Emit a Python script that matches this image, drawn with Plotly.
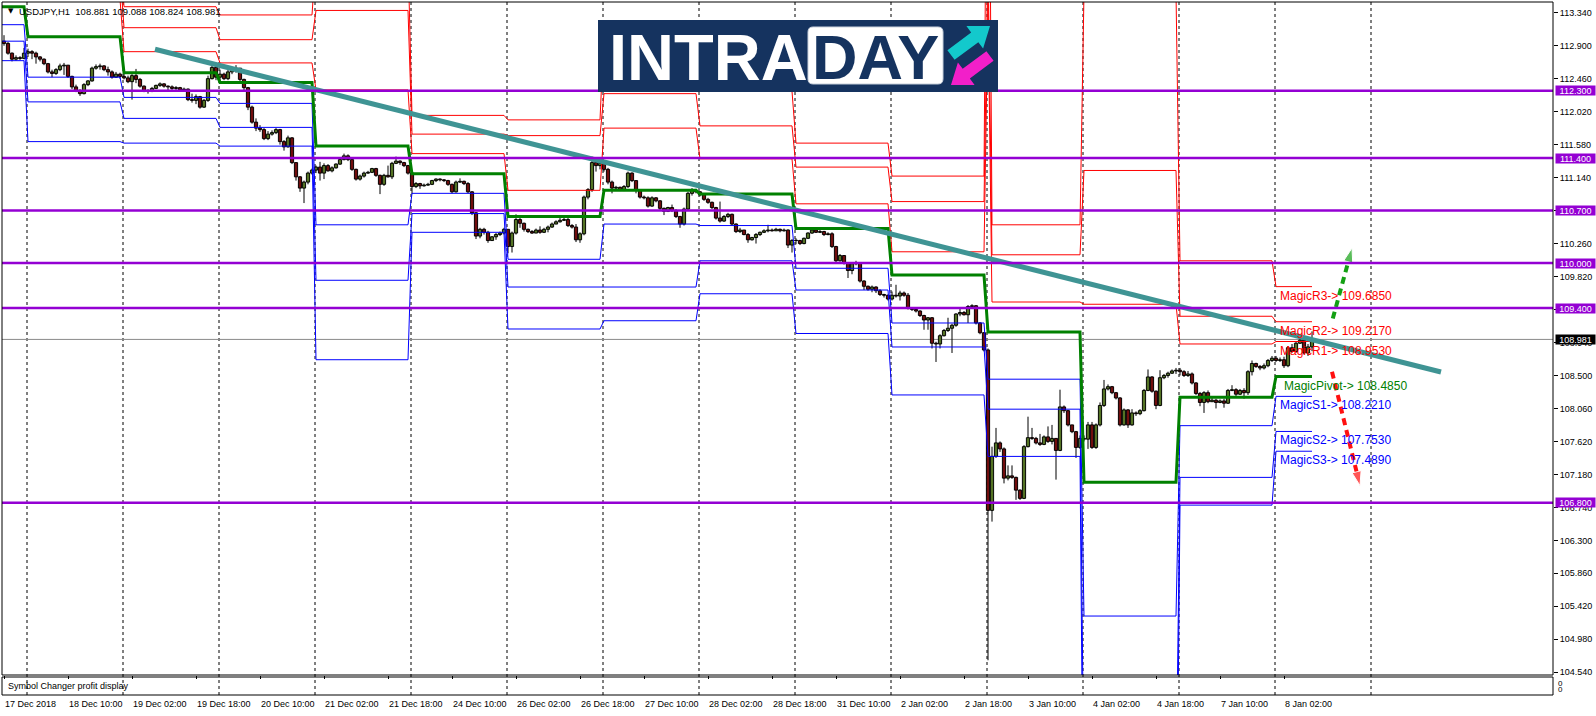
import math
from datetime import datetime, timedelta
import plotly.graph_objects as go

# ------------------------------------------------------------------ DATA
symbol_header = "USDJPY,H1  108.881 109.088 108.824 108.981"
day_dates = ["2018-12-17", "2018-12-18", "2018-12-19", "2018-12-20", "2018-12-21",
             "2018-12-24", "2018-12-26", "2018-12-27", "2018-12-28", "2018-12-31",
             "2019-01-02", "2019-01-03", "2019-01-04", "2019-01-07", "2019-01-08"]
day_start_hour = [18, 0, 0, 0, 0, 0, 0, 0, 0, 0, 0, 0, 0, 0, 0]
bars_per_day = [6, 24, 24, 24, 24, 24, 24, 24, 24, 24, 24, 24, 24, 24, 10]

first_open = 112.96
closes = [
    112.93, 112.80, 112.72, 112.74, 112.73, 112.80,
    112.82, 112.80, 112.75, 112.72, 112.66, 112.55, 112.53, 112.58, 112.63, 112.64, 112.49, 112.35,
    112.30, 112.26, 112.38, 112.43, 112.60, 112.62, 112.63, 112.58, 112.55, 112.48, 112.52, 112.49,
    112.47, 112.42, 112.50, 112.45, 112.36, 112.30, 112.29, 112.33, 112.37, 112.39, 112.36, 112.35,
    112.33, 112.34, 112.31, 112.32, 112.18, 112.17, 112.22, 112.08, 112.17, 112.46, 112.61, 112.48,
    112.52, 112.46, 112.55, 112.57, 112.60, 112.45, 112.34, 112.08, 111.88, 111.80, 111.78, 111.66,
    111.72, 111.74, 111.78, 111.62, 111.55, 111.67, 111.34, 111.15, 111.00, 111.08, 111.20, 111.24,
    111.28, 111.20, 111.30, 111.23, 111.27, 111.32, 111.38, 111.43, 111.38, 111.25, 111.12, 111.16,
    111.20, 111.21, 111.26, 111.17, 111.05, 111.17, 111.15, 111.33, 111.36, 111.34, 111.30, 111.20,
    111.02, 111.06, 111.03, 111.04, 111.05, 111.10, 111.12, 111.11, 111.10, 111.05, 110.95, 111.08,
    111.09, 111.06, 110.95, 110.67, 110.36, 110.45, 110.41, 110.30, 110.35, 110.38, 110.40, 110.45,
    110.22, 110.40, 110.58, 110.53, 110.45, 110.42, 110.40, 110.44, 110.41, 110.45, 110.48, 110.52,
    110.55, 110.57, 110.58, 110.50, 110.48, 110.31, 110.39, 110.88, 110.98, 111.34, 111.30, 111.33,
    111.25, 111.08, 111.00, 111.01, 110.98, 111.02, 111.20, 111.10, 110.97, 110.88, 110.87, 110.76,
    110.87, 110.83, 110.73, 110.69, 110.74, 110.70, 110.62, 110.52, 110.72, 110.93, 110.97, 110.95,
    110.91, 110.85, 110.81, 110.74, 110.60, 110.56, 110.62, 110.65, 110.52, 110.42, 110.44, 110.38,
    110.31, 110.34, 110.38, 110.41, 110.43, 110.44, 110.43, 110.45, 110.43, 110.44, 110.24, 110.30,
    110.30, 110.26, 110.33, 110.40, 110.44, 110.41, 110.42, 110.38, 110.39, 110.22, 110.03, 110.10,
    110.00, 109.90, 109.99, 110.00, 109.76, 109.69, 109.65, 109.68, 109.63, 109.58, 109.57, 109.52,
    109.57, 109.56, 109.60, 109.57, 109.40, 109.38, 109.36, 109.30, 109.24, 109.27, 108.93, 108.92,
    109.03, 109.10, 109.13, 109.17, 109.32, 109.34, 109.31, 109.42, 109.43, 109.20, 109.07, 108.84,
    106.70, 107.42, 107.60, 107.52, 107.13, 107.16, 107.14, 106.97, 106.86, 107.55, 107.67, 107.66,
    107.60, 107.58, 107.68, 107.62, 107.66, 107.50, 108.08, 108.03, 107.84, 107.75, 107.54, 107.66,
    107.65, 107.84, 107.54, 107.84, 108.10, 108.32, 108.35, 108.27, 108.20, 107.84, 108.04, 107.84,
    108.00, 107.99, 108.03, 108.30, 108.48, 108.29, 108.10, 108.47, 108.50, 108.53, 108.56, 108.57,
    108.55, 108.50, 108.52, 108.40, 108.26, 108.14, 108.27, 108.15, 108.17, 108.14, 108.16, 108.13,
    108.30, 108.31, 108.25, 108.30, 108.27, 108.55, 108.66, 108.62, 108.60, 108.63, 108.70, 108.73,
    108.70, 108.71, 108.63, 108.87, 108.82, 108.93, 108.97, 108.80, 108.881, 108.981,
]
highs = [
    113.04, 112.95, 112.81, 112.77, 112.76, 112.87,
    112.86, 112.84, 112.82, 112.76, 112.73, 112.67, 112.58, 112.60, 112.66, 112.67, 112.64, 112.50,
    112.38, 112.32, 112.40, 112.44, 112.62, 112.65, 112.66, 112.64, 112.62, 112.57, 112.55, 112.54,
    112.53, 112.50, 112.52, 112.59, 112.47, 112.37, 112.32, 112.35, 112.38, 112.41, 112.40, 112.37,
    112.37, 112.36, 112.35, 112.34, 112.33, 112.26, 112.25, 112.23, 112.19, 112.50, 112.68, 112.64,
    112.58, 112.54, 112.58, 112.60, 112.64, 112.60, 112.46, 112.35, 112.10, 111.93, 111.84, 111.80,
    111.76, 111.77, 111.80, 111.79, 111.64, 111.70, 111.68, 111.34, 111.16, 111.10, 111.22, 111.26,
    111.30, 111.35, 111.33, 111.32, 111.29, 111.33, 111.40, 111.46, 111.45, 111.40, 111.26, 111.18,
    111.22, 111.23, 111.27, 111.27, 111.18, 111.19, 111.30, 111.35, 111.42, 111.37, 111.35, 111.31,
    111.22, 111.08, 111.07, 111.06, 111.07, 111.11, 111.13, 111.13, 111.12, 111.11, 111.06, 111.10,
    111.13, 111.10, 111.08, 110.96, 110.68, 110.47, 110.47, 110.43, 110.36, 110.40, 110.42, 110.47,
    110.45, 110.42, 110.65, 110.62, 110.54, 110.46, 110.44, 110.46, 110.49, 110.47, 110.50, 110.54,
    110.57, 110.60, 110.63, 110.61, 110.52, 110.52, 110.41, 110.90, 111.00, 111.42, 111.40, 111.37,
    111.37, 111.27, 111.10, 111.03, 111.02, 111.04, 111.22, 111.21, 111.10, 110.98, 110.90, 110.89,
    110.89, 110.88, 110.84, 110.74, 110.75, 110.78, 110.72, 110.63, 110.74, 110.95, 111.00, 110.99,
    110.96, 110.93, 110.87, 110.82, 110.75, 110.82, 110.64, 110.67, 110.66, 110.53, 110.47, 110.44,
    110.40, 110.35, 110.40, 110.42, 110.45, 110.51, 110.46, 110.47, 110.46, 110.46, 110.45, 110.32,
    110.33, 110.31, 110.34, 110.41, 110.48, 110.45, 110.44, 110.43, 110.41, 110.41, 110.23, 110.12,
    110.10, 110.01, 110.00, 110.03, 110.01, 109.77, 109.70, 109.70, 109.69, 109.65, 109.59, 109.58,
    109.62, 109.71, 109.63, 109.62, 109.60, 109.41, 109.39, 109.37, 109.31, 109.28, 109.28, 108.95,
    109.05, 109.12, 109.27, 109.19, 109.33, 109.40, 109.36, 109.44, 109.45, 109.44, 109.21, 109.08,
    108.86, 107.55, 107.80, 107.62, 107.54, 107.30, 107.30, 107.15, 106.98, 107.57, 107.95, 107.80,
    107.68, 107.72, 107.70, 107.82, 107.84, 107.66, 108.31, 108.10, 108.04, 107.84, 107.76, 107.70,
    107.70, 107.88, 107.88, 107.86, 108.14, 108.44, 108.38, 108.36, 108.28, 108.21, 108.06, 108.05,
    108.05, 108.02, 108.05, 108.32, 108.58, 108.49, 108.30, 108.57, 108.52, 108.55, 108.58, 108.60,
    108.60, 108.57, 108.56, 108.54, 108.41, 108.28, 108.29, 108.30, 108.20, 108.19, 108.18, 108.19,
    108.32, 108.37, 108.33, 108.32, 108.33, 108.57, 108.70, 108.67, 108.64, 108.66, 108.72, 108.76,
    108.76, 108.74, 108.75, 108.89, 108.92, 108.95, 109.05, 108.99, 108.92, 109.088,
]
lows = [
    112.90, 112.78, 112.69, 112.70, 112.71, 112.72,
    112.75, 112.72, 112.66, 112.69, 112.64, 112.53, 112.48, 112.51, 112.56, 112.51, 112.47, 112.32,
    112.28, 112.23, 112.25, 112.36, 112.42, 112.58, 112.58, 112.56, 112.50, 112.46, 112.47, 112.46,
    112.45, 112.40, 112.18, 112.40, 112.34, 112.28, 112.26, 112.28, 112.32, 112.35, 112.34, 112.30,
    112.31, 112.31, 112.29, 112.30, 112.16, 112.14, 112.12, 112.06, 112.07, 112.15, 112.45, 112.44,
    112.43, 112.44, 112.44, 112.52, 112.54, 112.42, 112.30, 112.04, 111.86, 111.76, 111.75, 111.64,
    111.64, 111.70, 111.72, 111.58, 111.50, 111.54, 111.32, 111.10, 110.95, 110.80, 111.05, 111.18,
    111.20, 111.10, 111.12, 111.22, 111.21, 111.26, 111.31, 111.37, 111.36, 111.23, 111.10, 111.10,
    111.14, 111.19, 111.20, 111.15, 110.92, 111.03, 111.14, 111.12, 111.32, 111.31, 111.28, 111.18,
    110.92, 111.00, 110.99, 111.02, 111.03, 111.04, 111.08, 111.09, 111.08, 111.03, 110.93, 110.94,
    111.07, 111.04, 110.93, 110.64, 110.32, 110.33, 110.38, 110.27, 110.30, 110.31, 110.36, 110.38,
    110.13, 110.14, 110.38, 110.47, 110.42, 110.40, 110.39, 110.40, 110.39, 110.40, 110.41, 110.47,
    110.52, 110.54, 110.56, 110.48, 110.46, 110.28, 110.27, 110.37, 110.85, 110.95, 111.22, 111.25,
    111.22, 111.05, 110.93, 110.97, 110.96, 110.96, 111.00, 111.08, 110.93, 110.86, 110.85, 110.74,
    110.75, 110.81, 110.70, 110.64, 110.68, 110.68, 110.60, 110.47, 110.50, 110.70, 110.90, 110.93,
    110.89, 110.83, 110.79, 110.72, 110.58, 110.54, 110.55, 110.60, 110.50, 110.40, 110.40, 110.37,
    110.27, 110.30, 110.26, 110.36, 110.40, 110.41, 110.42, 110.43, 110.41, 110.42, 110.20, 110.14,
    110.25, 110.24, 110.25, 110.32, 110.39, 110.40, 110.40, 110.36, 110.37, 110.20, 110.01, 110.02,
    109.98, 109.80, 109.85, 109.97, 109.74, 109.64, 109.63, 109.61, 109.60, 109.56, 109.54, 109.50,
    109.50, 109.54, 109.50, 109.55, 109.38, 109.36, 109.34, 109.28, 109.11, 109.11, 108.86, 108.68,
    108.86, 109.02, 109.08, 108.80, 109.15, 109.29, 109.30, 109.20, 109.41, 109.18, 109.05, 108.82,
    104.70, 106.55, 107.40, 107.48, 107.06, 107.10, 107.12, 106.84, 106.84, 106.85, 107.54, 107.64,
    107.58, 107.56, 107.57, 107.60, 107.58, 107.11, 107.49, 108.00, 107.82, 107.73, 107.40, 107.52,
    107.62, 107.52, 107.52, 107.52, 107.82, 108.08, 108.30, 108.25, 108.18, 107.82, 107.83, 107.80,
    107.83, 107.96, 107.97, 108.02, 108.29, 108.27, 108.05, 108.09, 108.45, 108.47, 108.52, 108.52,
    108.50, 108.48, 108.48, 108.38, 108.24, 108.09, 108.00, 108.13, 108.15, 108.06, 108.13, 108.07,
    108.12, 108.29, 108.22, 108.24, 108.19, 108.24, 108.50, 108.60, 108.57, 108.58, 108.61, 108.68,
    108.68, 108.68, 108.60, 108.61, 108.80, 108.80, 108.92, 108.78, 108.76, 108.824,
]

# daily "Magic" pivot levels (one value per day)
pivot = [113.42, 113.02, 112.54, 112.41, 111.56, 111.19, 110.62, 110.97, 110.92, 110.46, 109.84, 109.08, 107.075, 108.21, 108.485]
r1 = [113.64, 113.52, 112.82, 112.67, 112.31, 111.46, 110.97, 111.80, 111.39, 110.79, 110.15, 109.48, 109.45, 108.92, 108.953]
r2 = [113.88, 113.89, 113.14, 112.98, 113.37, 111.72, 111.70, 112.26, 111.83, 111.28, 110.82, 110.11, 111.235, 109.29, 109.217]
r3 = [114.10, 114.22, 113.42, 113.31, 114.10, 111.97, 111.91, 113.10, 112.29, 111.60, 111.16, 110.51, 113.61, 110.03, 109.685]
s1 = [113.18, 112.48, 112.21, 112.13, 110.51, 110.93, 110.05, 110.52, 110.50, 109.93, 109.20, 108.45, 105.29, 107.83, 108.221]
s2 = [112.96, 112.15, 111.93, 111.81, 109.77, 110.66, 109.68, 109.68, 110.03, 109.64, 108.88, 108.05, 102.90, 107.14, 107.753]
s3 = [112.70, 111.62, 111.60, 111.56, 108.71, 110.41, 109.12, 109.23, 109.59, 109.06, 108.24, 107.42, 101.13, 106.77, 107.489]
# resistance values on the first (flash-crash) bar of 3 Jan, drawn off the top of the chart
spike_day = 11
spike_r1, spike_r2, spike_r3 = 113.46, 114.09, 118.50

level_lines = [112.300, 111.400, 110.700, 110.000, 109.400, 106.800]
last_price = 108.981
y_ticks = [113.34, 112.90, 112.46, 112.02, 111.58, 111.14, 110.70, 110.26, 109.82, 109.38, 108.94,
           108.50, 108.06, 107.62, 107.18, 106.74, 106.30, 105.86, 105.42, 104.98, 104.54]
tick_every = 16

# hand-drawn objects (bar index, price)
trend_x, trend_y = [37.75, 359.25], [112.852, 108.546]
up_arrow_x, up_arrow_y = [332.2, 337.0], [109.26, 110.20]
down_arrow_x, down_arrow_y = [332.0, 339.0], [108.55, 107.03]

# ------------------------------------------------------------------ LAYOUT GEOMETRY
W, H = 1596, 716
PL, PR, PT, PB = 2, 1553, 2, 695      # plot area (px)
MAIN_B, SUB_T = 675, 677               # main pane bottom, sub pane top
X_RANGE = [-0.5, 387.25]
Y_RANGE = [104.5034, 113.4828]
BULL, BEAR = "#a8e64a", "#e01b1b"


def xp(px):
    return (px - PL) / (PR - PL)


def yp(py):
    return (PB - py) / (PB - PT)


# ------------------------------------------------------------------ BUILD SERIES
times = []
for d, h0, n in zip(day_dates, day_start_hour, bars_per_day):
    base = datetime.strptime(d, "%Y-%m-%d")
    for k in range(n):
        times.append(base + timedelta(hours=h0 + k))
N = len(times)
idx = list(range(N))
opens = [first_open] + closes[:-1]

tick_vals, tick_text = [], []
for i in range(0, N, tick_every):
    t = times[i]
    tick_vals.append(i)
    tick_text.append(f"{t.day} {t:%b %Y}" if i == 0 else f"{t.day} {t:%b %H:%M}")

day_first_index = []
acc = 0
for n in bars_per_day:
    day_first_index.append(acc)
    acc += n
separators = day_first_index[1:] + [day_first_index[-1] + 24]


def per_bar(levels, spike=None):
    out = []
    for v, n in zip(levels, bars_per_day):
        out += [v] * n
    if spike is not None:
        out[day_first_index[spike_day]] = spike
    return out


fig = go.Figure()

# candles: wicks + bodies
wx, wy = [], []
for i in idx:
    wx += [i, i, None]
    wy += [lows[i], highs[i], None]
fig.add_trace(go.Scatter(x=wx, y=wy, mode="lines", line=dict(color="black", width=1),
                         showlegend=False, hoverinfo="skip"))
body_base = [min(o, c) for o, c in zip(opens, closes)]
body_h = [max(abs(c - o), 0.004) for o, c in zip(opens, closes)]
body_col = [BULL if c >= o else BEAR for o, c in zip(opens, closes)]
fig.add_trace(go.Bar(x=idx, y=body_h, base=body_base, width=0.8,
                     marker=dict(color=body_col, line=dict(color="black", width=1)),
                     showlegend=False, hoverinfo="skip"))

lx = [-0.5] + idx
for lv, sp, col, w in [(s3, None, "#0000ff", 1), (s2, None, "#0000ff", 1), (s1, None, "#0000ff", 1),
                       (r1, spike_r1, "#ff0000", 1), (r2, spike_r2, "#ff0000", 1),
                       (r3, spike_r3, "#ff0000", 1), (pivot, None, "#008000", 3)]:
    pb = per_bar(lv, sp)
    fig.add_trace(go.Scatter(x=lx, y=[pb[0]] + pb, mode="lines",
                             line=dict(color=col, width=w), showlegend=False, hoverinfo="skip"))

fig.add_trace(go.Scatter(x=trend_x, y=trend_y, mode="lines",
                         line=dict(color="#3f9494", width=5), showlegend=False, hoverinfo="skip"))
for ax_, ay_, col in [(up_arrow_x, up_arrow_y, "#13a013"), (down_arrow_x, down_arrow_y, "#ff1010")]:
    fig.add_trace(go.Scatter(x=ax_, y=ay_, mode="lines+markers",
                             line=dict(color=col, width=4, dash="7px,5px"),
                             marker=dict(symbol=["circle", "arrow"], size=[0, 15], color=col,
                                         angleref="previous"),
                             showlegend=False, hoverinfo="skip"))

shapes = []
for s in separators:
    shapes.append(dict(type="line", xref="x", yref="paper", x0=s - 0.25, x1=s - 0.25, y0=0, y1=1,
                       line=dict(color="black", width=1, dash="3px,3px"), layer="below"))
shapes.append(dict(type="line", xref="paper", yref="y", x0=0, x1=1, y0=last_price, y1=last_price,
                   line=dict(color="#8a8a8a", width=1), layer="below"))
for lv in level_lines:
    shapes.append(dict(type="line", xref="paper", yref="y", x0=0, x1=1, y0=lv, y1=lv,
                       line=dict(color="#9400d3", width=2.5), layer="above"))
# pane frames
shapes.append(dict(type="rect", xref="paper", yref="paper", x0=0, x1=1, y0=yp(MAIN_B), y1=1,
                   line=dict(color="black", width=1)))
shapes.append(dict(type="rect", xref="paper", yref="paper", x0=0, x1=1, y0=0, y1=yp(SUB_T),
                   line=dict(color="black", width=1)))


def P(px, py):
    return f"{xp(px):.6f},{yp(py):.6f}"


def arrow_path(tail, tip, sw, hw, hl):
    dx, dy = tip[0] - tail[0], tip[1] - tail[1]
    L = math.hypot(dx, dy)
    ux, uy = dx / L, dy / L
    nx, ny = -uy, ux
    bx, by = tip[0] - ux * hl, tip[1] - uy * hl
    pts = [(tail[0] + nx * sw, tail[1] + ny * sw), (bx + nx * sw, by + ny * sw),
           (bx + nx * hw, by + ny * hw), tip, (bx - nx * hw, by - ny * hw),
           (bx - nx * sw, by - ny * sw), (tail[0] - nx * sw, tail[1] - ny * sw)]
    return "M " + " L ".join(P(*p) for p in pts) + " Z"


# INTRADAY logo
NAVY = "#15335f"
shapes.append(dict(type="rect", xref="paper", yref="paper", x0=xp(598), x1=xp(998), y0=yp(92), y1=yp(20),
                   fillcolor=NAVY, line=dict(width=0), layer="above"))
x0, x1, y0, y1, r = 808, 943, 27, 84, 5
rr = (f"M {P(x0 + r, y0)} L {P(x1 - r, y0)} Q {P(x1, y0)} {P(x1, y0 + r)} L {P(x1, y1 - r)} "
      f"Q {P(x1, y1)} {P(x1 - r, y1)} L {P(x0 + r, y1)} Q {P(x0, y1)} {P(x0, y1 - r)} "
      f"L {P(x0, y0 + r)} Q {P(x0, y0)} {P(x0 + r, y0)} Z")
shapes.append(dict(type="path", xref="paper", yref="paper", path=rr, fillcolor="white",
                   line=dict(color="#c9d1dc", width=1), layer="above"))
shapes.append(dict(type="path", xref="paper", yref="paper", path=arrow_path((951, 55), (990, 26), 6, 14, 19),
                   fillcolor="#13c9cc", line=dict(width=0), layer="above"))
shapes.append(dict(type="path", xref="paper", yref="paper", path=arrow_path((990, 56), (951, 85), 6, 14, 19),
                   fillcolor="#f21fc9", line=dict(width=0), layer="above"))

FONT = "Liberation Sans, Arial, sans-serif"
ann = []
ann.append(dict(xref="paper", yref="paper", x=xp(607), y=yp(57), xanchor="left", yanchor="middle",
                text="<b>INTRA</b>", showarrow=False, font=dict(family=FONT, size=65, color="white")))
ann.append(dict(xref="paper", yref="paper", x=xp(875.5), y=yp(57), xanchor="center", yanchor="middle",
                text="<b>DAY</b>", showarrow=False, font=dict(family=FONT, size=63, color=NAVY)))

ann.append(dict(xref="paper", yref="paper", x=xp(6), y=yp(11), xanchor="left", yanchor="middle",
                text="▼", showarrow=False, font=dict(family="DejaVu Sans", size=7, color="black")))
ann.append(dict(xref="paper", yref="paper", x=xp(17), y=yp(11), xanchor="left", yanchor="middle",
                text=symbol_header.replace("  ", "&nbsp;&nbsp;"), showarrow=False,
                font=dict(family=FONT, size=9.5, color="black")))

for lv in level_lines:
    ann.append(dict(xref="paper", yref="y", x=xp(1555), y=lv, xanchor="left", yanchor="middle",
                    text=f"{lv:.3f}", showarrow=False, bgcolor="#9400d3", width=39, height=9,
                    borderpad=0, font=dict(family=FONT, size=9, color="white")))
ann.append(dict(xref="paper", yref="y", x=xp(1555), y=last_price, xanchor="left", yanchor="middle",
                text=f"{last_price:.3f}", showarrow=False, bgcolor="black", width=39, height=9,
                borderpad=0, font=dict(family=FONT, size=9, color="white")))

magic = [("MagicR3", r3[-1], "#ff0000", 0), ("MagicR2", r2[-1], "#ff0000", 0),
         ("MagicR1", r1[-1], "#ff0000", 0), ("MagicPivot", pivot[-1], "#008000", 1),
         ("MagicS1", s1[-1], "#0000ff", 0), ("MagicS2", s2[-1], "#0000ff", 0),
         ("MagicS3", s3[-1], "#0000ff", 0)]
for name, v, col, dx in magic:
    ann.append(dict(xref="x", yref="y", x=day_first_index[-1] + 0.6 + dx, y=v, xanchor="left",
                    yanchor="top", text=f"{name}-> {v:.4f}", showarrow=False,
                    font=dict(family=FONT, size=12, color=col)))

# time-axis labels, left-aligned just right of their tick (MT4 style)
for tv, tt in zip(tick_vals, tick_text):
    ann.append(dict(xref="x", yref="paper", x=tv, y=yp(704), xanchor="left", yanchor="middle",
                    xshift=-1, text=tt, showarrow=False, font=dict(family=FONT, size=9, color="black")))

ann.append(dict(xref="paper", yref="paper", x=xp(6), y=yp(686), xanchor="left", yanchor="middle",
                text="Symbol Changer profit display", showarrow=False,
                font=dict(family=FONT, size=9, color="black")))
for py in (683, 689):
    ann.append(dict(xref="paper", yref="paper", x=xp(1556), y=yp(py), xanchor="left", yanchor="middle",
                    text="0", showarrow=False, font=dict(family=FONT, size=8, color="black")))

fig.update_layout(
    width=W, height=H, autosize=False,
    margin=dict(l=PL, r=W - PR, t=PT, b=H - PB, autoexpand=False),
    paper_bgcolor="white", plot_bgcolor="white",
    hovermode=False, showlegend=False,
    shapes=shapes, annotations=ann,
    xaxis=dict(domain=[0, 1], anchor="y2", range=X_RANGE, showgrid=False, zeroline=False,
               showline=False,
               tickmode="array", tickvals=tick_vals, showticklabels=False,
               ticks="outside", ticklen=3, tickcolor="black"),
    yaxis=dict(domain=[yp(MAIN_B), 1], anchor="x", side="right", range=Y_RANGE,
               showgrid=False, zeroline=False, showline=False, automargin=False,
               tickmode="array", tickvals=y_ticks, ticktext=[f"{v:.3f}" for v in y_ticks],
               ticks="outside", ticklen=4, tickcolor="black",
               tickfont=dict(family=FONT, size=9, color="black")),
    yaxis2=dict(domain=[0, yp(SUB_T)], anchor="x", range=[0, 1], showgrid=False,
                zeroline=False, showticklabels=False, showline=False),
)

fig.write_html("out.html", config={"displayModeBar": False},
               post_script="document.body.style.margin='0px';document.body.style.overflow='hidden';")
